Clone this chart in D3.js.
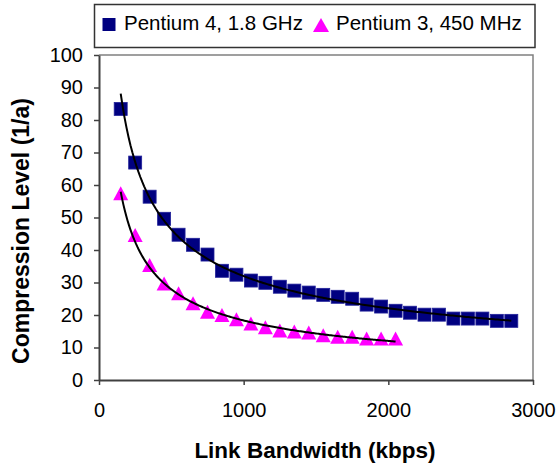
<!DOCTYPE html>
<html>
<head>
<meta charset="utf-8">
<script src="https://cdn.jsdelivr.net/npm/d3@7"></script>
<style>
  html, body { margin: 0; padding: 0; background: #fff; }
  svg { display: block; font-family: Arial, "Liberation Sans", sans-serif; }
</style>
</head>
<body>
<svg id="chart" width="556" height="467"></svg>
<script>
// ---- Data ----
const p4Bandwidth = [150, 250, 350, 450, 550, 650, 750, 850, 950, 1050, 1150, 1250, 1350, 1450,
                     1550, 1650, 1750, 1850, 1950, 2050, 2150, 2250, 2350, 2450, 2550, 2650, 2750, 2850];
const p4Level = [83.4, 66.9, 56.4, 49.6, 44.7, 41.6, 38.6, 33.6, 32.4, 30.6, 29.9, 28.7, 27.5, 26.9,
                 26.2, 25.6, 25.0, 23.2, 22.6, 21.3, 20.7, 20.1, 20.1, 18.9, 18.9, 18.9, 18.2, 18.2];
const p3Bandwidth = [150, 250, 350, 450, 550, 650, 750, 850, 950, 1050, 1150, 1250, 1350, 1450,
                     1550, 1650, 1750, 1850, 1950, 2050];
const p3Level = [57.5, 44.6, 35.4, 29.7, 26.7, 23.6, 21.0, 20.0, 18.7, 17.4, 16.2, 15.2, 14.9, 14.6,
                 13.8, 13.3, 13.3, 12.8, 12.8, 12.8];
const seriesNames = ["Pentium 4, 1.8 GHz", "Pentium 3, 450 MHz"];
const xTicks = [0, 1000, 2000, 3000];
const yTicks = [0, 10, 20, 30, 40, 50, 60, 70, 80, 90, 100];
const xTitle = "Link Bandwidth (kbps)";
const yTitle = "Compression Level (1/a)";

(function () {
// ---- Layout ----
const svg = d3.select("#chart");
const pLeft = 99, pRight = 533, pTop = 55, pBottom = 380;
const x = d3.scaleLinear().domain([0, 3000]).range([pLeft, pRight]);
const y = d3.scaleLinear().domain([0, 100]).range([pBottom, pTop]);

// Power trendline (least squares in log-log space), as in spreadsheet trendlines
function powerFit(xs, ys) {
  const lx = xs.map(Math.log), ly = ys.map(Math.log);
  const mx = d3.mean(lx), my = d3.mean(ly);
  let sxy = 0, sxx = 0;
  for (let i = 0; i < lx.length; i++) { sxy += (lx[i]-mx)*(ly[i]-my); sxx += (lx[i]-mx)**2; }
  const b = sxy / sxx, a = Math.exp(my - b*mx);
  return v => a * Math.pow(v, b);
}

// plot-area border (top & right)
svg.append("path")
  .attr("d", `M${pLeft},${pTop}H${pRight}V${pBottom}`)
  .attr("fill", "none").attr("stroke", "#808080").attr("stroke-width", 1.5);

// Axes
const axisColor = "#404040";
const yAxis = svg.append("g").attr("transform", `translate(${pLeft},0)`)
  .call(d3.axisLeft(y).tickValues(yTicks).tickSize(5).tickSizeOuter(0).tickPadding(11));
const xAxis = svg.append("g").attr("transform", `translate(0,${pBottom})`)
  .call(d3.axisBottom(x).tickValues(xTicks).tickSize(5).tickSizeOuter(0).tickPadding(18).tickFormat(d3.format("d")));
[yAxis, xAxis].forEach(g => {
  g.select(".domain").attr("stroke", axisColor).attr("stroke-width", 2);
  g.selectAll(".tick line").attr("stroke", axisColor).attr("stroke-width", 1.5);
  g.selectAll("text").attr("fill", "#000").attr("font-size", 20)
    .attr("font-family", "Arial, 'Liberation Sans', sans-serif");
});
xAxis.selectAll("text").attr("dy", null).attr("y", 37);

// Axis titles
svg.append("text").attr("x", 315).attr("y", 458).attr("text-anchor", "middle")
  .attr("font-size", 22.5).attr("font-weight", "bold").text(xTitle);
svg.append("text").attr("transform", "translate(29,231) rotate(-90)").attr("text-anchor", "middle")
  .attr("font-size", 23).attr("font-weight", "bold").text(yTitle);

// Trendlines
const line = d3.line().x(d => x(d[0])).y(d => y(d[1]));
function trend(xs, ys) {
  const f = powerFit(xs, ys);
  const [x0, x1] = d3.extent(xs);
  const pts = d3.range(x0, x1 + 1e-9, (x1 - x0) / 200).map(v => [v, f(v)]);
  svg.append("path").attr("d", line(pts)).attr("fill", "none")
    .attr("stroke", "#000").attr("stroke-width", 2);
}

function triPath(cx, cy, w, h) {
  return `M${cx},${cy - h/2}L${cx + w/2},${cy + h/2}L${cx - w/2},${cy + h/2}Z`;
}
svg.append("g").selectAll("rect").data(d3.zip(p4Bandwidth, p4Level)).join("rect")
  .attr("x", d => x(d[0]) - 6.5).attr("y", d => y(d[1]) - 6.5)
  .attr("width", 13).attr("height", 13)
  .attr("fill", "#000080").attr("stroke", "#22229a").attr("stroke-width", 0.8);
svg.append("g").selectAll("path").data(d3.zip(p3Bandwidth, p3Level)).join("path")
  .attr("d", d => triPath(x(d[0]), y(d[1]), 15, 14))
  .attr("fill", "#FF00FF");

trend(p4Bandwidth, p4Level);
trend(p3Bandwidth, p3Level);

// Legend
const lg = svg.append("g");
lg.append("rect").attr("x", 94.5).attr("y", 4.5).attr("width", 440.5).attr("height", 43)
  .attr("fill", "#fff").attr("stroke", "#333").attr("stroke-width", 1.5);
lg.append("rect").attr("x", 102.5).attr("y", 18).attr("width", 13).attr("height", 13)
  .attr("fill", "#000080");
lg.append("text").attr("x", 124).attr("y", 30).attr("font-size", 20.5).text(seriesNames[0]);
lg.append("path").attr("d", triPath(321, 25, 16, 14)).attr("fill", "#FF00FF");
lg.append("text").attr("x", 336).attr("y", 30).attr("font-size", 20.5).text(seriesNames[1]);
})();
</script>
</body>
</html>
